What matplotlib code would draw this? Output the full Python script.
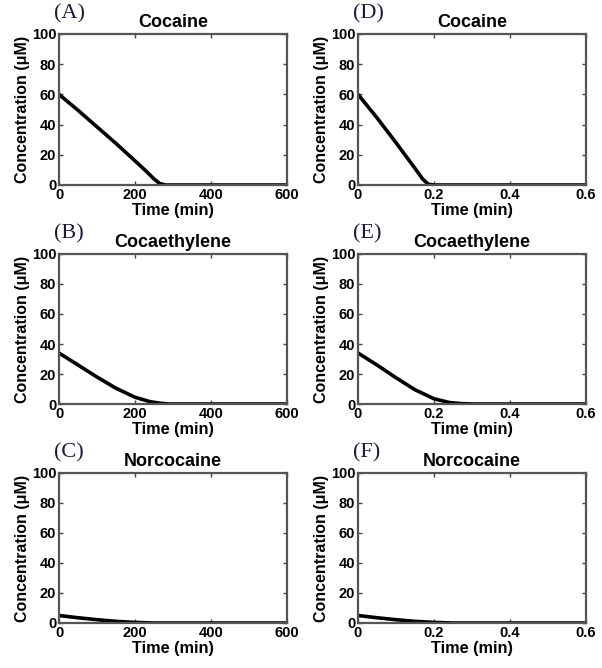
import matplotlib
matplotlib.use("Agg")
import matplotlib.pyplot as plt

W, H = 602, 668

# Data
coc_t_min = [0, 50, 100, 150, 200, 230, 250, 265, 280, 600]
coc_c_min = [60, 49.5, 38.5, 27.5, 16, 9, 4, 1, 0, 0]
coc_t_s = [0, 0.05, 0.1, 0.15, 0.17, 0.185, 0.2, 0.6]
coc_c_s = [60, 44.5, 28, 11, 4, 0.5, 0, 0]

ce_t_min = [0, 50, 100, 150, 200, 240, 270, 290, 600]
ce_c_min = [34, 26, 18, 10.5, 4.5, 1.5, 0.4, 0, 0]
ce_t_s = [0, 0.05, 0.1, 0.15, 0.2, 0.24, 0.27, 0.3, 0.6]
ce_c_s = [34, 26, 17.5, 9.5, 3.5, 1, 0.3, 0, 0]

nc_t_min = [0, 50, 100, 150, 200, 250, 600]
nc_c_min = [5, 3.5, 2.2, 1.1, 0.4, 0, 0]
nc_t_s = [0, 0.05, 0.1, 0.15, 0.2, 0.25, 0.6]
nc_c_s = [5, 3.5, 2.2, 1.1, 0.4, 0, 0]

panels = [
    ("(A)", "Cocaine", coc_t_min, coc_c_min, [0, 200, 400, 600], ["0", "200", "400", "600"], 600),
    ("(B)", "Cocaethylene", ce_t_min, ce_c_min, [0, 200, 400, 600], ["0", "200", "400", "600"], 600),
    ("(C)", "Norcocaine", nc_t_min, nc_c_min, [0, 200, 400, 600], ["0", "200", "400", "600"], 600),
    ("(D)", "Cocaine", coc_t_s, coc_c_s, [0, 0.2, 0.4, 0.6], ["0", "0.2", "0.4", "0.6"], 0.6),
    ("(E)", "Cocaethylene", ce_t_s, ce_c_s, [0, 0.2, 0.4, 0.6], ["0", "0.2", "0.4", "0.6"], 0.6),
    ("(F)", "Norcocaine", nc_t_s, nc_c_s, [0, 0.2, 0.4, 0.6], ["0", "0.2", "0.4", "0.6"], 0.6),
]
y_ticks = [0, 20, 40, 60, 80, 100]

fig = plt.figure(figsize=(W / 100, H / 100), dpi=100)
fig.patch.set_facecolor("white")

lefts = [59, 358]
rows = [(34, 185), (254, 404), (473, 623)]
axw = 228

for i, (lab, title, t, c, xt, xtl, xmax) in enumerate(panels):
    col = i // 3
    row = i % 3
    x0 = lefts[col]
    top, bot = rows[row]
    ax = fig.add_axes([x0 / W, 1 - bot / H, axw / W, (bot - top) / H])
    ax.plot(t, c, color="black", lw=2.6, solid_capstyle="butt", solid_joinstyle="round")
    ax.set_xlim(0, xmax)
    ax.set_ylim(0, 100)
    ax.set_xticks(xt)
    ax.set_xticklabels(xtl)
    ax.set_yticks(y_ticks)
    ax.tick_params(direction="in", length=3, width=1, top=True, right=True,
                   labelsize=10.5, pad=2, color="#444444")
    for lbl in ax.get_xticklabels() + ax.get_yticklabels():
        lbl.set_fontweight("bold")
        lbl.set_family("Liberation Sans")
    for s in ax.spines.values():
        s.set_linewidth(1.6)
        s.set_color("#555555")
    ax.set_xlabel("Time (min)", fontsize=11.7, fontweight="bold", family="Liberation Sans", labelpad=1)
    ax.set_ylabel("Concentration (μM)", fontsize=11.5, fontweight="bold", family="Liberation Sans", labelpad=1)
    ax.set_title(title, fontsize=13, fontweight="bold", family="Liberation Sans", pad=5)
    fig.text((x0 - 5) / W, 1 - (top - 20) / H, lab, fontsize=16, family="Liberation Serif",
             color="#1a1a3a", ha="left", va="center")

fig.savefig("out.png", dpi=100, facecolor="white")
